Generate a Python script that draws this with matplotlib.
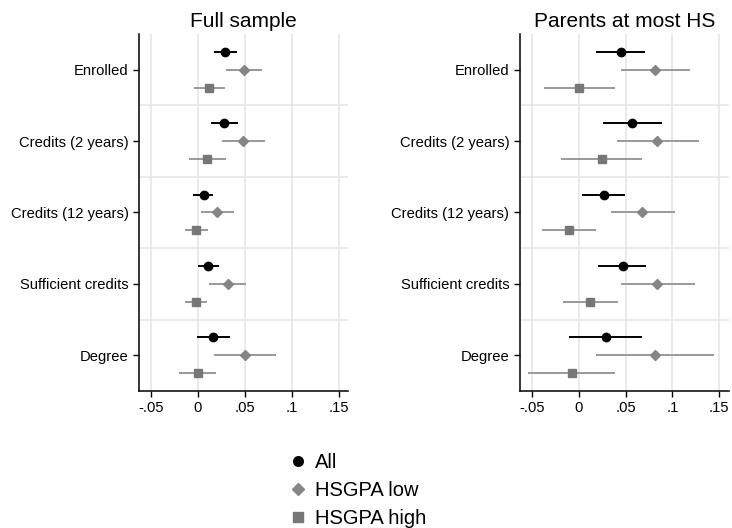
import numpy as np
import matplotlib.pyplot as plt

plt.rcParams['font.family'] = ['Liberation Sans', 'DejaVu Sans']

outcomes = ['Enrolled', 'Credits (2 years)', 'Credits (12 years)',
            'Sufficient credits', 'Degree']
groups = ['All', 'HSGPA low', 'HSGPA high']

# point estimates and 95% CI bounds, one row per outcome
full_est = {
    'All':        [0.029, 0.028, 0.006, 0.011, 0.016],
    'HSGPA low':  [0.049, 0.048, 0.020, 0.032, 0.050],
    'HSGPA high': [0.012, 0.010, -0.002, -0.002, 0.000],
}
full_lo = {
    'All':        [0.017, 0.014, -0.005, 0.000, -0.001],
    'HSGPA low':  [0.030, 0.026, 0.003, 0.012, 0.017],
    'HSGPA high': [-0.004, -0.009, -0.014, -0.014, -0.020],
}
full_hi = {
    'All':        [0.042, 0.043, 0.016, 0.022, 0.034],
    'HSGPA low':  [0.068, 0.071, 0.038, 0.051, 0.083],
    'HSGPA high': [0.029, 0.030, 0.011, 0.010, 0.019],
}

hs_est = {
    'All':        [0.045, 0.057, 0.027, 0.047, 0.029],
    'HSGPA low':  [0.081, 0.084, 0.068, 0.084, 0.081],
    'HSGPA high': [0.000, 0.025, -0.010, 0.012, -0.007],
}
hs_lo = {
    'All':        [0.018, 0.026, 0.004, 0.021, -0.010],
    'HSGPA low':  [0.045, 0.041, 0.034, 0.045, 0.019],
    'HSGPA high': [-0.037, -0.019, -0.039, -0.017, -0.054],
}
hs_hi = {
    'All':        [0.071, 0.089, 0.049, 0.072, 0.068],
    'HSGPA low':  [0.119, 0.128, 0.103, 0.124, 0.144],
    'HSGPA high': [0.039, 0.068, 0.019, 0.042, 0.039],
}

xticks = [-0.05, 0, 0.05, 0.1, 0.15]
xticklabels = ['-.05', '0', '.05', '.1', '.15']

styles = {
    'All':        dict(marker='o', mc='black', lc='black', ms=6, off=-0.25),
    'HSGPA low':  dict(marker='D', mc='#858585', lc='#999999', ms=5.5, off=0.0),
    'HSGPA high': dict(marker='s', mc='#777777', lc='#999999', ms=6, off=0.25),
}

fig = plt.figure(figsize=(7.32, 5.28), dpi=100)
ax1 = fig.add_axes([0.1899, 0.2595, 0.2855, 0.6761])
ax2 = fig.add_axes([0.7100, 0.2595, 0.2855, 0.6761])

ypos = np.arange(len(outcomes))


def panel(ax, title, est, lo, hi):
    for sep in ypos[:-1] + 0.5:
        ax.axhline(sep, color='#e6e6e6', lw=1.2, zorder=0)
    for xt in xticks:
        ax.axvline(xt, color='#e6e6e6', lw=1.2, zorder=0)
    for g in groups:
        s = styles[g]
        y = ypos + s['off']
        ax.hlines(y, lo[g], hi[g], color=s['lc'], lw=1.4, zorder=2)
        ax.plot(est[g], y, linestyle='none', marker=s['marker'],
                color=s['mc'], ms=s['ms'], zorder=3, label=g)
    ax.set_xlim(-0.0628, 0.16)
    ax.set_ylim(len(outcomes) - 0.5, -0.5)
    ax.set_yticks(ypos)
    ax.set_yticklabels(outcomes, fontsize=10.6)
    ax.set_xticks(xticks)
    ax.set_xticklabels(xticklabels, fontsize=10.6)
    ax.tick_params(axis='both', length=4, width=1, color='black')
    ax.spines['top'].set_visible(False)
    ax.spines['right'].set_visible(False)
    ax.spines['left'].set_linewidth(1.1)
    ax.spines['bottom'].set_linewidth(1.1)
    ax.set_title(title, fontsize=15, pad=5)


panel(ax1, 'Full sample', full_est, full_lo, full_hi)
panel(ax2, 'Parents at most HS', hs_est, hs_lo, hs_hi)

handles, labels = ax1.get_legend_handles_labels()
fig.legend(handles, labels, loc='upper left', bbox_to_anchor=(0.383, 0.158),
           frameon=False, fontsize=14.5, handletextpad=0.3,
           handlelength=1.0, labelspacing=0.45, borderaxespad=0,
           markerscale=1.15)

plt.savefig('out.png', dpi=100)
